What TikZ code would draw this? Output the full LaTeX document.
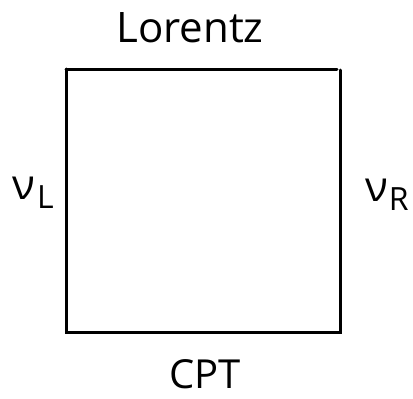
\documentclass[tikz,border=0pt]{standalone}
\usepackage{fontspec}
\setmainfont{Open Sans}
\usetikzlibrary{positioning}
\newcommand{\lowsub}[1]{\raisebox{-9pt}{\fontsize{32}{36}\selectfont #1}}

\begin{document}
\begin{tikzpicture}
	[x=1pt,y=-1pt,thick,every node/.style={inner sep=0pt,font=\fontsize{42}{48}\selectfont},
	edgeline/.style={line width=3pt,line cap=round}]
	\useasboundingbox (0,0) rectangle (413,399);
	% corners of the square
	\coordinate (tl) at (66,69);
	\coordinate (tr) at (337,69);
	\coordinate (rt) at (340,70);
	\coordinate (br) at (340,332);
	\coordinate (bl) at (66,332);

	\draw[edgeline] (tl) -- (tr);
	\draw[edgeline] (rt) -- (br) -- (bl) -- (tl);

	\node (lorentz) at (190,28) {Lorentz};
	\node[anchor=base,font=\fontsize{40}{44}\selectfont] (cpt) at (205,388) {CPT};
	\node (nuL) at (33,193) {ν\kern2pt\lowsub{L}};
	\node (nuR) at (387,195) {ν\kern1pt\lowsub{R}};
\end{tikzpicture}
\end{document}
